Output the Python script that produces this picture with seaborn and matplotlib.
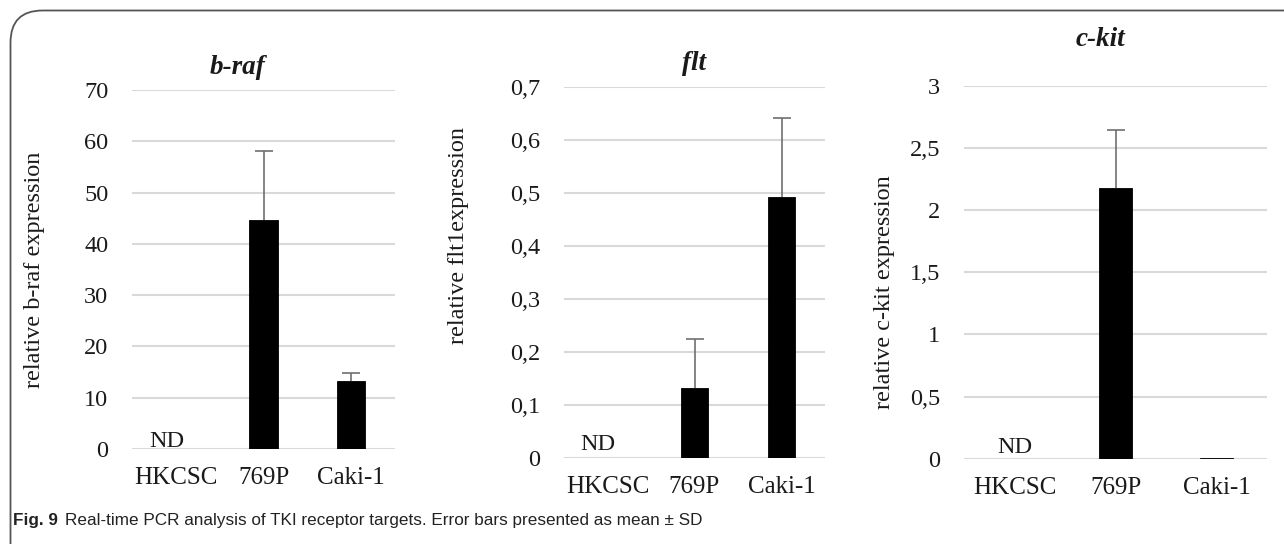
import matplotlib
matplotlib.use("Agg")
import matplotlib.pyplot as plt
import seaborn as sns
import pandas as pd
import numpy as np
from matplotlib.ticker import FuncFormatter, MultipleLocator
from matplotlib.patches import FancyBboxPatch

# ---- data ----
categories = ["HKCSC", "769P", "Caki-1"]
braf_mean = [0.0, 44.6, 13.2]
braf_sd = [0.0, 13.6, 1.7]
flt_mean = [0.0, 0.131, 0.491]
flt_sd = [0.0, 0.093, 0.150]
ckit_mean = [0.0, 2.18, 0.006]
ckit_sd = [0.0, 0.46, 0.0]
titles = ["b-raf", "flt", "c-kit"]
ylabels = ["relative b-raf expression", "relative flt1expression", "relative c-kit expression"]
ymax = [70, 0.7, 3]
ystep = [10, 0.1, 0.5]
nd_label = "ND"
caption_bold = "Fig. 9"
caption_rest = "Real-time PCR analysis of TKI receptor targets. Error bars presented as mean \u00b1 SD"

sns.set_theme(style="white")
plt.rcParams["font.family"] = ["Liberation Serif", "DejaVu Serif"]

W, H = 1284, 544
fig = plt.figure(figsize=(W / 100, H / 100), dpi=100)

# axes boxes in pixel coords (left, right, top, bottom)
boxes = [(132, 395, 90, 449), (564, 825, 86.7, 457.7), (964, 1267, 85.7, 458.7)]
title_pos = [(238, 67), (694, 64), (1100, 40)]
ylabel_pos = [(45, 270), (469, 235), (895, 292)]
nd_dx = [-9, -10, 0]
nd_dy = [-3, 3, 1]

means = [braf_mean, flt_mean, ckit_mean]
sds = [braf_sd, flt_sd, ckit_sd]
txt = "#1a1a1a"

def comma_fmt(v, pos):
    s = f"{round(v, 3):g}"
    return s.replace(".", ",")

for i in range(3):
    l, r, t, b = boxes[i]
    ax = fig.add_axes([l / W, 1 - b / H, (r - l) / W, (b - t) / H])
    df = pd.DataFrame({"cell": categories, "value": means[i]})
    sns.barplot(data=df, x="cell", y="value", order=categories, color="black",
                width=0.32, errorbar=None, ax=ax, zorder=3, saturation=1,
                edgecolor="black", linewidth=0.6)
    # upward-only error bars
    xs = np.arange(len(categories))
    m = np.array(means[i]); sd = np.array(sds[i])
    mask = sd > 0
    eb = ax.errorbar(xs[mask], m[mask], yerr=[np.zeros(mask.sum()), sd[mask]],
                     fmt="none", ecolor="#6f6f6f", elinewidth=1.2, capsize=6.5,
                     capthick=1.2, zorder=4)
    caps = eb[1]
    if len(caps) > 0:
        caps[0].set_visible(False)
    ax.set_ylim(0, ymax[i])
    ax.set_xlim(-0.5, 2.5)
    ax.yaxis.set_major_locator(MultipleLocator(ystep[i]))
    ax.yaxis.set_major_formatter(FuncFormatter(comma_fmt))
    ax.grid(axis="y", color="#d9d9d9", linewidth=1.5, zorder=0)
    ax.grid(axis="x", visible=False)
    ax.set_axisbelow(True)
    for sp in ax.spines.values():
        sp.set_visible(False)
    ax.tick_params(axis="y", length=0, pad=17, labelsize=17.5, labelcolor=txt)
    ax.tick_params(axis="x", length=0, pad=13, labelsize=18, labelcolor=txt)
    ax.set_xlabel("")
    ax.set_ylabel(ylabels[i], fontsize=17.5, color=txt)
    lx, ly = ylabel_pos[i]
    ax.yaxis.set_label_coords((lx - l) / (r - l), (b - ly) / (b - t))
    ax.annotate(nd_label, xy=(0, 0), xytext=(nd_dx[i], nd_dy[i]),
                textcoords="offset pixels", ha="center", va="bottom",
                fontsize=17.5, color=txt)
    tx, ty = title_pos[i]
    fig.text(tx / W, 1 - ty / H, titles[i], ha="center", va="center",
             fontsize=19.5, fontweight="bold", fontstyle="italic", color=txt)

# outer rounded frame
frame = FancyBboxPatch((10.5 / W, -40 / H), (W + 40) / W, (H + 40 - 10.5) / H,
                       boxstyle="round,pad=0,rounding_size=0.025",
                       transform=fig.transFigure, fill=False,
                       edgecolor="#555555", linewidth=1.3, mutation_aspect=W / H)
fig.patches.append(frame)

cap_font = ["Liberation Sans Narrow", "Liberation Sans", "DejaVu Sans"]
t1 = fig.text(13 / W, 1 - 521 / H, caption_bold, ha="left", va="center",
              fontsize=12.3, fontweight="bold", family=cap_font, color="#222222")
fig.canvas.draw()
ax0 = fig.axes[0]
ax0.annotate(caption_rest, xy=(1, 0.5), xycoords=t1, xytext=(7, 0),
             textcoords="offset pixels", ha="left", va="center",
             fontsize=12.3, family=cap_font, color="#222222", annotation_clip=False)

fig.savefig("out.png", dpi=100, facecolor="white")
